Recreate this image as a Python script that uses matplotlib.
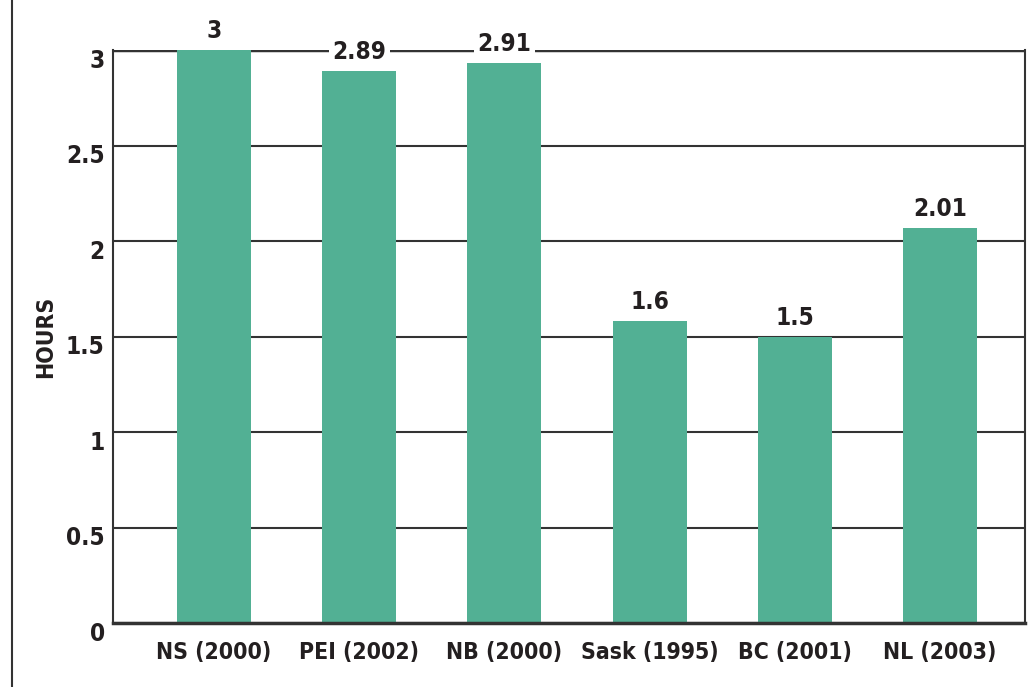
import matplotlib
matplotlib.use("Agg")
import matplotlib.pyplot as plt
from matplotlib.lines import Line2D
from matplotlib.transforms import ScaledTranslation

categories = ["NS (2000)", "PEI (2002)", "NB (2000)", "Sask (1995)", "BC (2001)", "NL (2003)"]
bar_heights = [3.0, 2.89, 2.93, 1.58, 1.5, 2.07]
bar_labels = ["3", "2.89", "2.91", "1.6", "1.5", "2.01"]
yticks = [0, 0.5, 1, 1.5, 2, 2.5, 3]
ytick_labels = ["0", "0.5", "1", "1.5", "2", "2.5", "3"]

BAR = "#52b094"
INK = "#231f20"
FONT = dict(family="DejaVu Sans", weight="bold", stretch="condensed")

fig = plt.figure(figsize=(10.29, 6.87), dpi=100)
ax = fig.add_axes([113/1029, 1-623/687, (1025-113)/1029, (623-50)/687])

x = list(range(len(categories)))
ax.bar(x, bar_heights, width=0.51, color=BAR, zorder=2)
ax.set_xlim(-0.696, 5.585)
ax.set_ylim(0, 3)

ax.set_yticks(yticks)
ax.set_yticklabels(ytick_labels, fontsize=17.5, color=INK, **FONT)
ax.set_xticks(x)
ax.set_xticklabels(categories, fontsize=16.5, color=INK, **FONT)
ax.tick_params(axis="both", length=0)
ax.tick_params(axis="y", pad=6)
ax.tick_params(axis="x", pad=13)
for lab in ax.get_yticklabels():
    lab.set_transform(lab.get_transform() + ScaledTranslation(0, -6/72, fig.dpi_scale_trans))

ax.yaxis.grid(True, color="#333333", linewidth=1.5, zorder=0)
ax.axhline(3, color="#333333", linewidth=2.5, zorder=0)
ax.set_axisbelow(True)
for side in ["left", "right"]:
    ax.spines[side].set_color("#333333")
    ax.spines[side].set_linewidth(1.5)
ax.spines["top"].set_visible(False)
ax.spines["bottom"].set_color("#333333")
ax.spines["bottom"].set_linewidth(2.5)

ax.set_ylabel("HOURS", fontsize=16.5, color=INK, **FONT)
ax.yaxis.set_label_coords(-0.061, 0.5)

for xi, h, t in zip(x, bar_heights, bar_labels):
    ax.annotate(t, (xi, h), xytext=(0, 5), textcoords="offset points",
                ha="center", va="bottom", fontsize=17.5, color=INK,
                bbox=dict(boxstyle="square,pad=0.15", fc="white", ec="none"),
                annotation_clip=False, zorder=3, **FONT)

fig.add_artist(Line2D([12/1029, 12/1029], [0, 1], transform=fig.transFigure,
                      color="#333333", linewidth=1.5))

fig.savefig("out.png", dpi=100)
